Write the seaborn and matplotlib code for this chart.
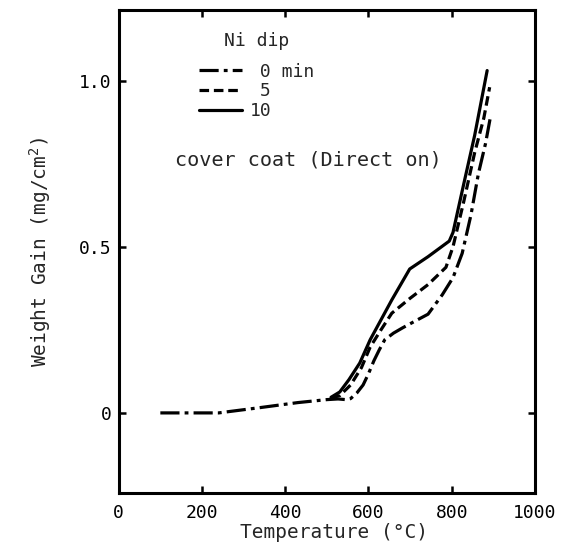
import numpy as np
import pandas as pd
import matplotlib
matplotlib.use("Agg")
import matplotlib.pyplot as plt
import seaborn as sns

# 0 min Ni dip (covers the common low-temperature part too)
temp_0 = [100, 240, 340, 430, 500, 527, 545, 557, 572, 587, 600, 613, 626, 639, 660, 682,
          710, 743, 777, 803, 825, 846, 864, 881, 894]
gain_0 = [0.0, 0.0, 0.016, 0.031, 0.040, 0.042, 0.040, 0.043, 0.060, 0.084, 0.118, 0.157,
          0.19, 0.22, 0.24, 0.256, 0.275, 0.297, 0.355, 0.407, 0.48, 0.595, 0.72, 0.81, 0.898]
# 5 min
temp_5 = [510, 531, 557, 583, 604, 630, 656, 699, 743, 786, 803, 829, 855, 877, 891]
gain_5 = [0.045, 0.052, 0.084, 0.136, 0.198, 0.25, 0.30, 0.344, 0.386, 0.438, 0.50, 0.637,
          0.783, 0.887, 0.98]
# 10 min
temp_10 = [510, 531, 553, 579, 604, 630, 656, 699, 743, 794, 803, 829, 855, 885]
gain_10 = [0.047, 0.063, 0.10, 0.15, 0.22, 0.28, 0.34, 0.433, 0.47, 0.517, 0.543, 0.69,
           0.835, 1.03]

x_ticks = [0, 200, 400, 600, 800, 1000]
y_ticks = [0, 0.5, 1.0]
y_tick_labels = ["0", "0.5", "1.0"]

sns.set_style("ticks")
plt.rcParams["font.family"] = ["DejaVu Sans Mono"]
plt.rcParams["mathtext.default"] = "regular"

fig = plt.figure(figsize=(5.61, 5.45), dpi=100)
ax = fig.add_axes([0.2116, 0.0954, 0.7421, 0.8855])

series = [
    (" 0 min", temp_0, gain_0, (0, (6, 1.6, 1.2, 1.6))),
    (" 5", temp_5, gain_5, (0, (3, 1.5))),
    ("10", temp_10, gain_10, "-"),
]
for label, t, g, ls in series:
    df = pd.DataFrame({"Temperature": t, "Gain": g})
    sns.lineplot(data=df, x="Temperature", y="Gain", ax=ax, color="black",
                 linewidth=2.3, linestyle=ls, label=label, sort=False)

ax.set_xlim(0, 1000)
ax.set_ylim(-0.241, 1.211)
ax.set_xticks(x_ticks)
ax.set_yticks(y_ticks)
ax.set_yticklabels(y_tick_labels)
ax.tick_params(direction="in", length=5, width=1.8, top=True, right=True,
               labelsize=13, colors="black")
ax.tick_params(axis="x", pad=8)
ax.tick_params(axis="y", pad=5)
for sp in ax.spines.values():
    sp.set_linewidth(2.2)
    sp.set_color("black")

ax.set_xlabel("Temperature (°C)", fontsize=14, labelpad=-1)
ax.xaxis.set_label_coords(0.517, -0.062)
ax.set_ylabel("Weight Gain (mg/cm$^{2}$)", fontsize=14, labelpad=19)

leg = ax.legend(title="Ni dip", frameon=False, loc="upper left",
                bbox_to_anchor=(0.175, 0.97), handlelength=2.4, handletextpad=0.4,
                labelspacing=0.09, fontsize=13, title_fontsize=13, borderaxespad=0)
leg._legend_box.sep = 9

ax.text(0.135, 0.69, "cover coat (Direct on)", transform=ax.transAxes,
        fontsize=14.5, ha="left", va="center")

fig.savefig("out.png", dpi=100)
